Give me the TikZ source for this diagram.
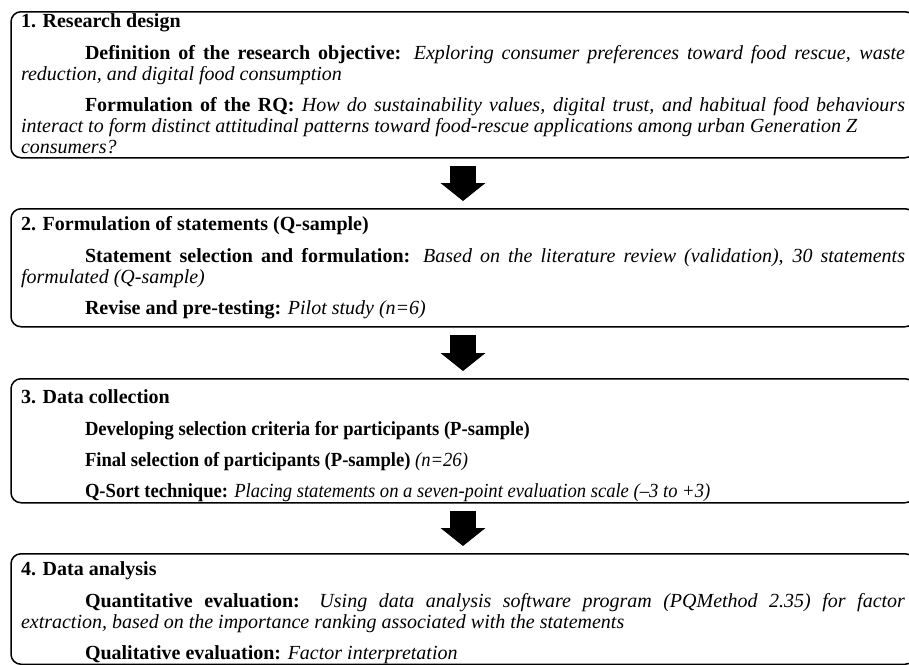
\documentclass[tikz,border=0pt]{standalone}
\usepackage{fontspec}
\setmainfont{Liberation Serif}
\newfontfamily\narrowserif[FakeStretch=0.93]{Liberation Serif}
\usetikzlibrary{arrows.meta}

% title of a phase, #1 = room above its baseline
\newcommand{\phasehead}[2]{\rule{0pt}{#1}\textbf{#2}\par\vspace{1pt}}
% one indented line of a phase: bold lead-in, italic rest
\newcommand{\phaseitem}[2]{\par\vspace{10pt}\hspace*{64pt}\textbf{#1} \textit{#2}}
% room below the last line
\newcommand{\phaseend}[1]{\rule[-#1]{0pt}{#1}}

\tikzset{
  phase/.style={draw, line width=1.5pt, rounded corners=10pt, anchor=north,
    text width=884pt, inner xsep=10pt, inner ysep=0pt, align=justify,
    font=\fontsize{20}{21}\selectfont},
  flow/.style={line width=26pt, -{Triangle[length=18pt,width=44pt]},
    shorten <=7pt, shorten >=7pt}
}

\begin{document}
\begin{tikzpicture}
  \useasboundingbox (0,0) rectangle (909pt,-664pt);

  \node[phase] (design) at (463pt,-11pt) {%
    \phasehead{16pt}{1. Research design}
    \phaseitem{Definition of the research objective:}{Exploring consumer preferences toward food rescue, waste\linebreak reduction, and digital food consumption}
    \phaseitem{Formulation of the RQ:}{How do sustainability values, digital trust, and habitual food behaviours\linebreak interact to form distinct attitudinal patterns toward food-rescue applications among urban Generation Z\newline consumers?\phaseend{4pt}}};

  \node[phase] (statements) at (463pt,-208pt) {%
    \phasehead{22pt}{2. Formulation of statements (Q-sample)}
    \phaseitem{Statement selection and formulation:}{Based on the literature review (validation), 30 statements\linebreak formulated (Q-sample)}
    \phaseitem{Revise and pre-testing:}{Pilot study (n=6)\phaseend{12pt}}};

  \node[phase] (collection) at (463pt,-378pt) {%
    \phasehead{25pt}{3. Data collection}\narrowserif
    \phaseitem{Developing selection criteria for participants (P-sample)}{}
    \phaseitem{Final selection of participants (P-sample)}{(n=26)}
    \phaseitem{Q-Sort technique:}{Placing statements on a seven-point evaluation scale (–3 to +3)\phaseend{5pt}}};

  \node[phase] (analysis) at (463pt,-553pt) {%
    \phasehead{22pt}{4. Data analysis}
    \phaseitem{Quantitative evaluation:}{Using data analysis software program (PQMethod 2.35) for factor\linebreak extraction, based on the importance ranking associated with the statements}
    \phaseitem{Qualitative evaluation:}{Factor interpretation\phaseend{4.5pt}}};

  % block arrows between the phases
  \draw[flow] (design) -- (statements);
  \draw[flow] (statements) -- (collection);
  \draw[flow] (collection) -- (analysis);
\end{tikzpicture}
\end{document}
